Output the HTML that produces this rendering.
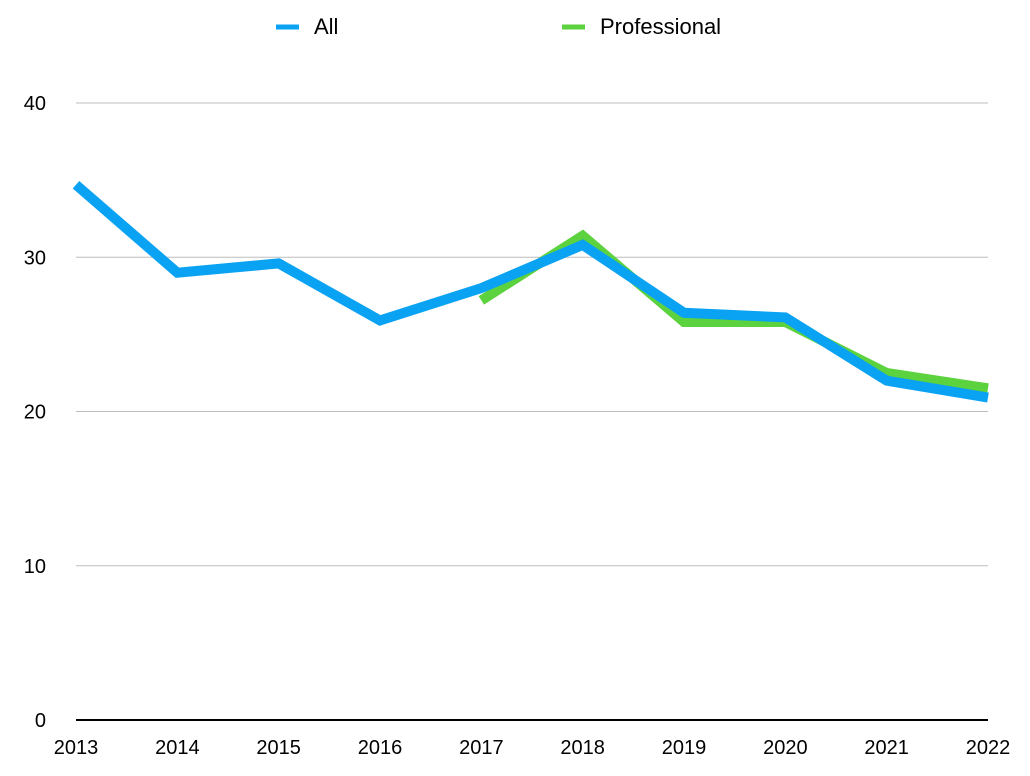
<!DOCTYPE html>
<html><head><meta charset="utf-8"><style>
body{margin:0;background:#fff;}
svg{display:block;font-family:"Liberation Sans",Arial,sans-serif;}
</style></head><body>
<svg id="chart" width="1030" height="776">
<g id="legend">
 <g>
  <line x1="276" y1="27" x2="299" y2="27" stroke="#0aa2f2" stroke-width="5"/>
  <text x="314" y="34" font-size="22" fill="#000">All</text>
 </g>
 <g>
  <line x1="562" y1="27" x2="585" y2="27" stroke="#5dd23f" stroke-width="5"/>
  <text x="600" y="34" font-size="22" fill="#000">Professional</text>
 </g>
</g>
<g id="grid"></g><g id="axes"></g><g id="series"></g>
</svg>
<script>
const years=["2013","2014","2015","2016","2017","2018","2019","2020","2021","2022"];
const allValues=[34.7,29.0,29.6,25.9,28.0,30.8,26.4,26.1,22.0,20.9];
const proValues=[null,null,null,null,27.2,31.4,25.8,25.8,22.5,21.5];
const yTicks=[0,10,20,30,40];
const NS="http://www.w3.org/2000/svg";
const x0=76,x1=988,y0=720,yTop=103,yMax=40;
function xs(i){return x0+(x1-x0)*i/(years.length-1);}
function ys(v){return y0-(y0-yTop)*v/yMax;}
function mk(t,a,p){const e=document.createElementNS(NS,t);for(const k in a)e.setAttribute(k,a[k]);p.appendChild(e);return e;}
const grid=document.getElementById('grid'),axes=document.getElementById('axes'),series=document.getElementById('series');
yTicks.forEach(v=>{
 if(v>0){const l=mk('line',{x1:x0,x2:x1,y1:ys(v),y2:ys(v),stroke:'#bdbdbd','stroke-width':1},grid);
 
 }
 const t=mk('text',{x:46,y:ys(v)+7,'font-size':20,'text-anchor':'end',fill:'#000'},axes);
 t.textContent=v;
 
 
});
const ax=mk('line',{x1:x0,x2:x1,y1:y0,y2:y0,stroke:'#000','stroke-width':2},axes);


years.forEach((y,i)=>{
 const t=mk('text',{x:xs(i),y:754,'font-size':20,'text-anchor':'middle',fill:'#000'},axes);
 t.textContent=y;
 
 
});
function path(vals){let d='';vals.forEach((v,i)=>{if(v==null)return;d+=(d?'L':'M')+xs(i)+','+ys(v);});return d;}
const pro=mk('path',{d:path(proValues),fill:'none',stroke:'#5dd23f','stroke-width':10,'stroke-linejoin':'miter'},series);


const all=mk('path',{d:path(allValues),fill:'none',stroke:'#0aa2f2','stroke-width':10,'stroke-linejoin':'miter'},series);


</script>
</body></html>
